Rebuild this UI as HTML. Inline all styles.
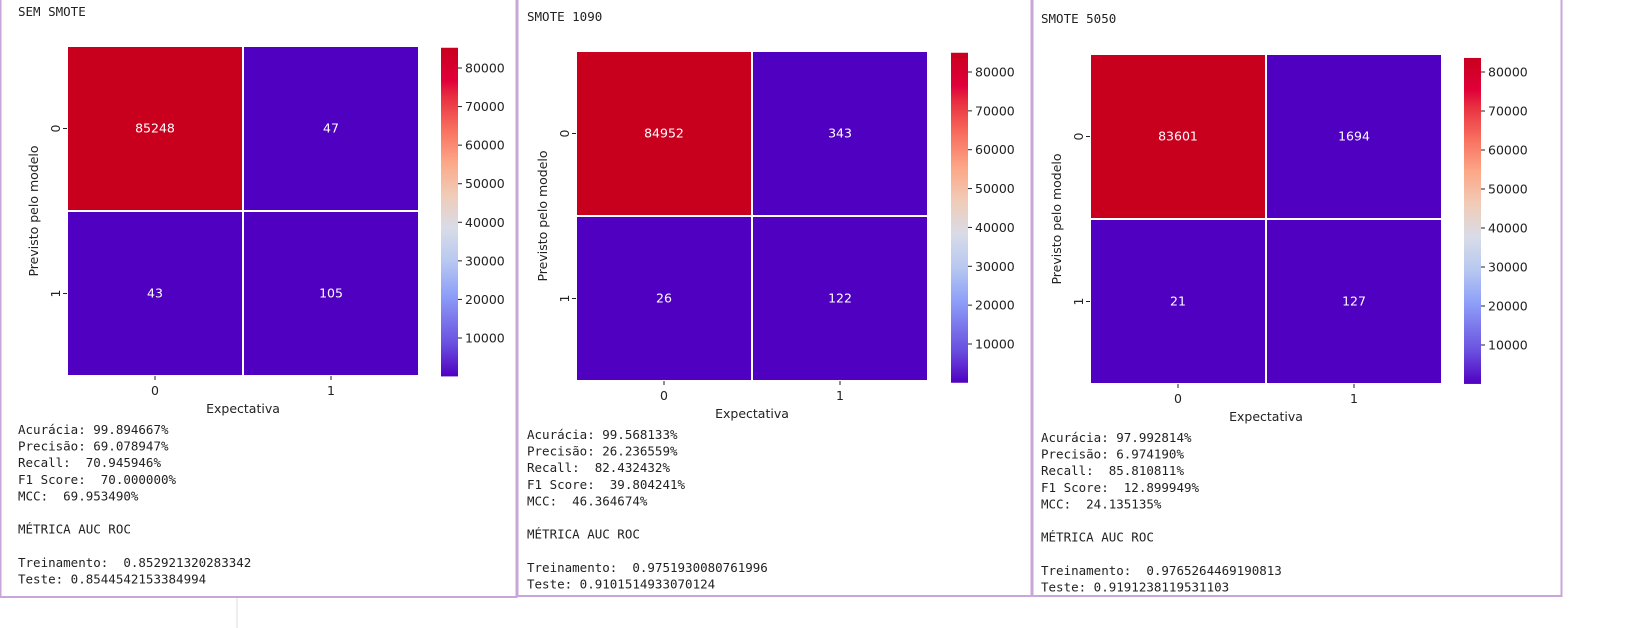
<!DOCTYPE html>
<html><head><meta charset="utf-8">
<style>
body{margin:0;width:1647px;height:628px;background:#fff;overflow:hidden;font-family:"DejaVu Sans Mono","Liberation Mono",monospace;}
svg{position:absolute;left:0;top:0}
text{white-space:pre}
.mono{font-family:"DejaVu Sans Mono","Liberation Mono",monospace;font-size:12.5px;fill:#222}
.sans{font-family:"DejaVu Sans","Liberation Sans",sans-serif;font-size:12.5px;fill:#222}
</style></head>
<body>
<svg id="root" width="1647" height="628" xml:space="preserve">
<defs>
<linearGradient id="cmap" x1="0" y1="1" x2="0" y2="0">
<stop offset="0" stop-color="#5000c0"/><stop offset="0.1" stop-color="#6a50e0"/>
<stop offset="0.25" stop-color="#8fa0f8"/><stop offset="0.35" stop-color="#b8c8f0"/>
<stop offset="0.45" stop-color="#d8dce8"/><stop offset="0.55" stop-color="#f0ccb8"/>
<stop offset="0.65" stop-color="#fca888"/><stop offset="0.75" stop-color="#f87060"/>
<stop offset="0.85" stop-color="#e83040"/><stop offset="0.9" stop-color="#e0003a"/>
<stop offset="1" stop-color="#c8001e"/>
</linearGradient>
</defs>
<line x1="237" y1="597" x2="237" y2="628" stroke="#ddd"/>
</svg>
<script>
const titles=["SEM SMOTE","SMOTE 1090","SMOTE 5050"];
const tn=[85248,84952,83601];
const fp=[47,343,1694];
const fn=[43,26,21];
const tp=[105,122,127];
const cbTicks=[10000,20000,30000,40000,50000,60000,70000,80000];
const metrics=[
["Acurácia: 99.894667%","Precisão: 69.078947%","Recall:  70.945946%","F1 Score:  70.000000%","MCC:  69.953490%","","MÉTRICA AUC ROC","","Treinamento:  0.852921320283342","Teste: 0.8544542153384994"],
["Acurácia: 99.568133%","Precisão: 26.236559%","Recall:  82.432432%","F1 Score:  39.804241%","MCC:  46.364674%","","MÉTRICA AUC ROC","","Treinamento:  0.9751930080761996","Teste: 0.9101514933070124"],
["Acurácia: 97.992814%","Precisão: 6.974190%","Recall:  85.810811%","F1 Score:  12.899949%","MCC:  24.135135%","","MÉTRICA AUC ROC","","Treinamento:  0.9765264469190813","Teste: 0.9191238119531103"]];
const L=[
 {px:0,pw:517,ph:597,tx:18,ty:16,hx:67,hy:46,cbx:441,tick80:68,tick10:338,txt:434},
 {px:517,pw:515,ph:596,tx:527,ty:21,hx:576,hy:51,cbx:951,tick80:72,tick10:344,txt:439},
 {px:1032,pw:530,ph:596,tx:1041,ty:23,hx:1090,hy:54,cbx:1464,tick80:72,tick10:345,txt:442}];
const NS="http://www.w3.org/2000/svg";
const root=document.getElementById('root');
function mk(tag,attrs,parent,text){const e=document.createElementNS(NS,tag);for(const k in attrs)e.setAttribute(k,attrs[k]);if(text!==undefined)e.textContent=text;(parent||root).appendChild(e);return e;}
const stops=[[0,[80,0,192]],[0.03,[80,0,192]],[0.1,[106,80,224]],[0.25,[143,160,248]],[0.35,[184,200,240]],[0.45,[216,220,232]],[0.55,[240,204,184]],[0.65,[252,168,136]],[0.75,[248,112,96]],[0.85,[232,48,64]],[0.9,[224,0,58]],[1,[200,0,30]]];
function color(t){t=Math.max(0,Math.min(1,t));for(let i=1;i<stops.length;i++){if(t<=stops[i][0]){const a=stops[i-1],b=stops[i];const f=(t-a[0])/(b[0]-a[0]);return 'rgb('+a[1].map((v,j)=>Math.round(v+(b[1][j]-v)*f)).join(',')+')';}}return 'rgb(200,0,30)';}
for(let p=0;p<3;p++){
 const l=L[p];
 const g=mk('g',{});
 
 
 const bg=mk('rect',{x:l.px+0.5,y:-2,width:l.pw-1,height:l.ph+2,fill:'#fff',stroke:'#c9a6d8','stroke-width':2},g);
 
 
 const t=mk('text',{x:l.tx,y:l.ty,class:'mono'},g,titles[p]);
 
 
 const vals=[tn[p],fp[p],fn[p],tp[p]];
 const vmin=Math.min(...vals),vmax=Math.max(...vals);
 const cw=176,ch=165;
 vals.forEach((v,i)=>{
  const c=i%2,r=Math.floor(i/2);
  const x=l.hx+c*cw,y=l.hy+r*ch;
  const rc=mk('rect',{x:x,y:y,width:cw,height:ch,fill:color((v-vmin)/(vmax-vmin)),stroke:'#fff','stroke-width':2},g);
  
  
  const tx=mk('text',{x:x+cw/2,y:y+ch/2+4,'text-anchor':'middle',class:'sans',style:'fill:#fff'},g,String(v));
  
  
 });
 ['0','1'].forEach((s,i)=>{
  const yy=l.hy+ch*i+ch/2;
  mk('line',{x1:l.hx-4,y1:yy,x2:l.hx,y2:yy,stroke:'#222'},g);
  const a=mk('text',{x:l.hx-7,y:yy,'text-anchor':'middle',class:'sans',transform:`rotate(-90 ${l.hx-7} ${yy})`},g,s);
  
  
  const xx=l.hx+cw*i+cw/2;
  mk('line',{x1:xx,y1:l.hy+2*ch,x2:xx,y2:l.hy+2*ch+4,stroke:'#222'},g);
  const b=mk('text',{x:xx,y:l.hy+2*ch+19,'text-anchor':'middle',class:'sans'},g,s);
  
  
 });
 const yl=mk('text',{x:l.hx-29,y:l.hy+ch,'text-anchor':'middle',class:'sans',transform:`rotate(-90 ${l.hx-29} ${l.hy+ch})`},g,'Previsto pelo modelo');
 
 
 const xl=mk('text',{x:l.hx+cw,y:l.hy+2*ch+37,'text-anchor':'middle',class:'sans'},g,'Expectativa');
 
 
 const per=(l.tick10-l.tick80)/70000;
 const yOf=v=>l.tick10-(v-10000)*per;
 const cbTop=yOf(vmax),cbBot=yOf(vmin);
 const cb=mk('rect',{x:l.cbx,y:cbTop,width:17,height:cbBot-cbTop,fill:'url(#cmap)'},g);
 
 
 cbTicks.forEach(v=>{
  const y=yOf(v);
  mk('line',{x1:l.cbx+17,y1:y,x2:l.cbx+21,y2:y,stroke:'#222'},g);
  const tt=mk('text',{x:l.cbx+24,y:y+4.5,class:'sans'},g,String(v));
  
  
 });
 metrics[p].forEach((s,i)=>{
  if(!s)return;
  const m=mk('text',{x:l.tx,y:l.txt+i*16.6,class:'mono'},g,s);
  
  
 });
}
</script>
</body></html>
